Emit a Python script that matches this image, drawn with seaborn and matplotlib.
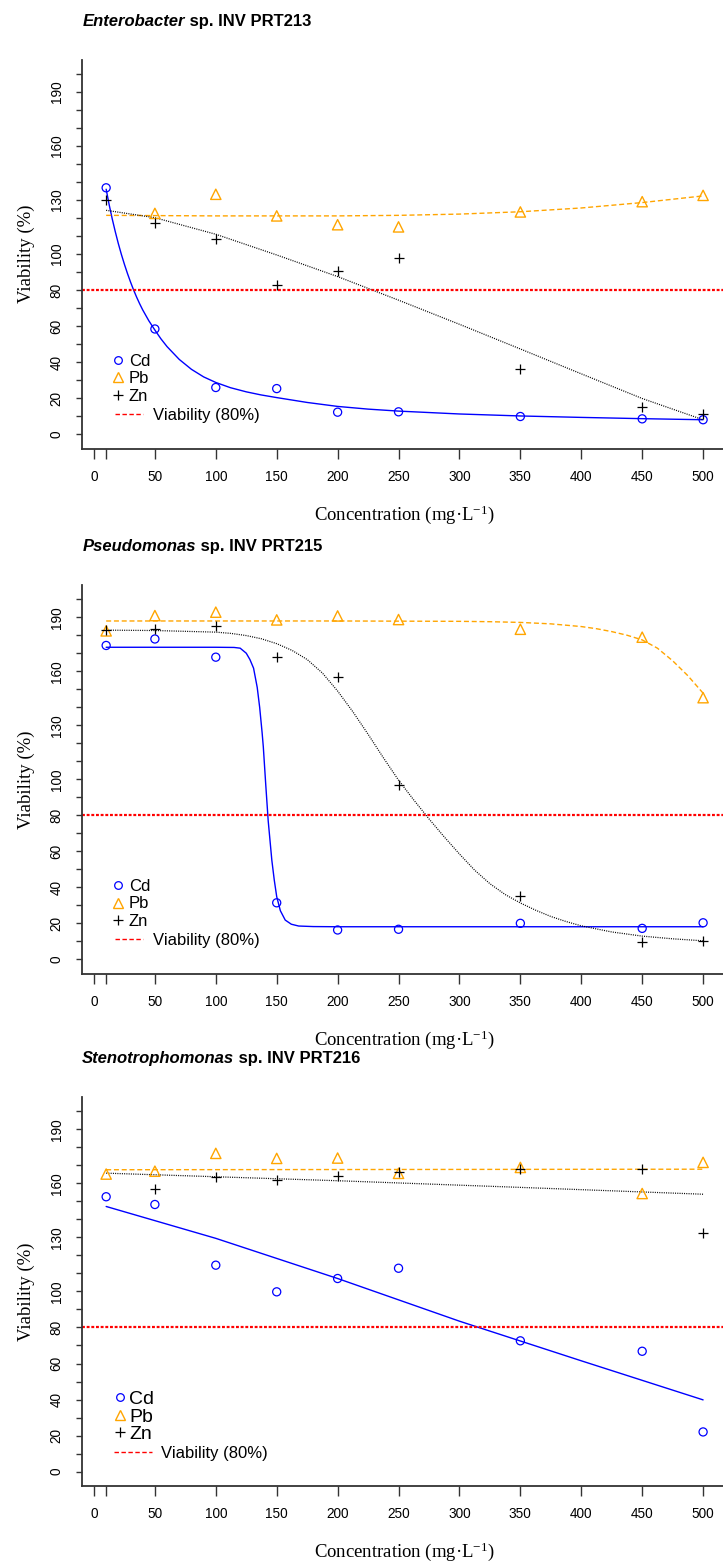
import numpy as np
import matplotlib
matplotlib.use('Agg')
import matplotlib.pyplot as plt
import seaborn as sns
from matplotlib.lines import Line2D

sns.set_style('ticks')
plt.rcParams['font.family'] = ['Liberation Sans', 'DejaVu Sans']
plt.rcParams['text.color'] = 'black'
plt.rcParams['axes.labelcolor'] = 'black'
plt.rcParams['xtick.color'] = 'black'
plt.rcParams['ytick.color'] = 'black'

# concentraciones ensayadas (mg/L)
conc = [10, 50, 100, 150, 200, 250, 350, 450, 500]
nan = np.nan

# --- Enterobacter sp. INV PRT213 ---
cd1 = [136.8, 58.4, 25.9, 25.3, 12.2, 12.4, 9.8, 8.5, 8.0]
pb1 = [nan, 122.6, 133.2, 121.2, 116.3, 115.1, 123.4, 129.1, 132.6]
zn1 = [129.9, 117.5, 108.2, 82.8, 90.7, 97.8, 36.2, 15.0, 11.3]
cd1_fx = [10, 12.5, 15, 17.5, 20, 22.5, 25, 27.5, 30, 32.5, 35, 37.5, 40, 45, 50, 55, 60,
          70, 80, 90, 100, 112, 125, 137, 150, 175, 200, 225, 250, 300, 350, 400, 450, 500]
cd1_fy = [136, 127.3, 119.5, 112.4, 105.8, 99.8, 94.3, 89.2, 84.5, 80.1, 76.1, 72.4, 69,
          63, 57.8, 52.9, 48.6, 41.5, 36, 31.8, 28.7, 25.8, 23.5, 21.8, 20.3, 17.6, 15.4,
          13.9, 12.8, 11.2, 10.1, 9.3, 8.6, 8.0]
pb1_fx = [10, 100, 200, 250, 300, 350, 400, 450, 500]
pb1_fy = [121.5, 121.2, 121.2, 121.5, 122.2, 123.5, 125.6, 128.6, 132.3]
zn1_fx = [10, 50, 100, 150, 200, 250, 300, 350, 400, 450, 500]
zn1_fy = [124.3, 120.2, 111, 99.5, 87.5, 74.4, 61, 47.3, 33.5, 19.8, 8.0]

# --- Pseudomonas sp. INV PRT215 ---
cd2 = [174.3, 177.9, 167.8, 31.4, 16.3, 16.7, 20.0, 17.2, 20.3]
pb2 = [182.4, 190.9, 192.8, 188.5, 190.7, 188.7, 183.3, 178.9, 145.3]
zn2 = [182.9, 183.5, 185.2, 167.8, 156.7, 96.7, 35.2, 9.8, 10.3]
cd2_fx = [10, 50, 100, 115, 120, 125, 128, 131, 134, 136, 138, 139, 141, 143, 146, 148,
          150, 153, 157, 162, 168, 180, 200, 300, 400, 500]
cd2_fy = [173.3, 173.3, 173.3, 173.2, 172.8, 170, 166.5, 161.7, 151, 140, 126, 118, 97,
          77, 55, 44, 34.8, 27, 21.8, 19.5, 18.5, 18.2, 18.1, 18.1, 18.1, 18.1]
pb2_fx = [10, 100, 200, 250, 300, 325, 350, 375, 400, 412.5, 425, 437.5, 450, 462.5, 475,
          487.5, 500]
pb2_fy = [187.9, 187.9, 187.9, 187.8, 187.7, 187.5, 187.1, 186.3, 184.8, 183.6, 182, 180,
          177.4, 172.8, 165.8, 157.5, 147.8]
zn2_fx = [10, 50, 100, 112.5, 125, 137.5, 150, 162.5, 175, 187.5, 200, 212.5, 225, 237.5,
          250, 262.5, 275, 287.5, 300, 312.5, 325, 337.5, 350, 362.5, 375, 387.5, 400, 425,
          450, 475, 500]
zn2_fy = [182.8, 182.6, 181.7, 181, 179.8, 178, 175.3, 171.6, 166.5, 159, 149, 137.5, 125,
          112, 99.5, 88.5, 78, 68, 58.5, 49.5, 42, 36, 31.3, 27.3, 23.8, 21, 18.6, 15.2,
          12.9, 11.4, 10.3]

# --- Stenotrophomonas sp. INV PRT216 ---
cd3 = [152.6, 148.3, 114.6, 99.8, 107.2, 112.9, 72.6, 66.8, 22.0]
pb3 = [165.2, 166.8, 176.7, 173.9, 174.1, 165.6, 168.9, 154.4, 171.7]
zn3 = [nan, 156.8, 163.3, 162.0, 163.9, 166.1, 167.9, 167.9, 132.4]
cd3_fx = [10, 100, 200, 300, 400, 500]
cd3_fy = [147.2, 129.5, 107.2, 83.5, 61.5, 39.8]
pb3_fx = [10, 500]
pb3_fy = [167.6, 167.9]
zn3_fx = [10, 200, 350, 500]
zn3_fy = [165.7, 161.5, 157.8, 154.0]

umbral = 80
xticks = [0, 10, 50, 100, 150, 200, 250, 300, 350, 400, 450, 500]
xtick_labels = ['0', '', '50', '100', '150', '200', '250', '300', '350', '400', '450', '500']
yticks = list(range(0, 201, 10))
ytick_labels = [str(v) if v in (0, 20, 40, 60, 80, 100, 130, 160, 190) else '' for v in yticks]

paneles = [
    ('Enterobacter', ' sp. INV PRT213', 0.7132, (cd1, pb1, zn1),
     ((cd1_fx, cd1_fy), (pb1_fx, pb1_fy), (zn1_fx, zn1_fy)), 12),
    ('Pseudomonas', ' sp. INV PRT215', 0.3774, (cd2, pb2, zn2),
     ((cd2_fx, cd2_fy), (pb2_fx, pb2_fy), (zn2_fx, zn2_fy)), 12),
    ('Stenotrophomonas', ' sp. INV PRT216', 0.0499, (cd3, pb3, zn3),
     ((cd3_fx, cd3_fy), (pb3_fx, pb3_fy), (zn3_fx, zn3_fy)), 14),
]

fig = plt.figure(figsize=(7.23, 15.64), dpi=100)
L, W, H = 0.1138, 0.8917, 0.2487
grey = '#333333'

for genero, resto, bottom, puntos, ajustes, fs_leg in paneles:
    ax = fig.add_axes([L, bottom, W, H])
    cd, pb, zn = puntos

    # curvas ajustadas
    sns.lineplot(x=ajustes[0][0], y=ajustes[0][1], ax=ax, color='blue', linewidth=1.0,
                 estimator=None, sort=False)
    sns.lineplot(x=ajustes[1][0], y=ajustes[1][1], ax=ax, color='orange', linewidth=1.0,
                 estimator=None, sort=False)
    ax.lines[-1].set_dashes((3.6, 2.0))
    sns.lineplot(x=ajustes[2][0], y=ajustes[2][1], ax=ax, color='black', linewidth=0.9,
                 estimator=None, sort=False)
    ax.lines[-1].set_dashes((0.8, 1.0))
    ax.axhline(umbral, color='red', lw=1.6, dashes=(1.3, 0.8), zorder=2)

    # puntos medidos
    sns.scatterplot(x=conc, y=cd, ax=ax, marker='o', s=34, color='blue', facecolor='none',
                    edgecolor='blue', linewidth=0.9, zorder=3)
    sns.scatterplot(x=conc, y=pb, ax=ax, marker='^', s=55, color='orange', facecolor='none',
                    edgecolor='orange', linewidth=1.0, zorder=3)
    sns.scatterplot(x=conc, y=zn, ax=ax, marker='+', s=60, color='black', linewidth=0.9,
                    zorder=3)

    ax.set_xlim(-9.6, 519.6)
    ax.set_ylim(-8, 208)
    ax.set_xticks(xticks)
    ax.set_xticklabels(xtick_labels)
    ax.set_yticks(yticks)
    ax.set_yticklabels(ytick_labels, rotation=90, va='center')
    ax.tick_params(axis='x', length=7.2, width=1, pad=8, labelsize=9.8, color=grey)
    ax.tick_params(axis='y', length=4.5, width=1, pad=9, labelsize=9.8, color=grey)
    sns.despine(ax=ax)
    for s in ('left', 'bottom'):
        ax.spines[s].set_linewidth(1.3)
        ax.spines[s].set_color(grey)

    ax.set_xlabel('Concentration (mg\u00b7L$\\mathregular{^{-1}}$)', family='Liberation Serif',
                  size=13.5)
    ax.xaxis.set_label_coords(0.5, -66 / 389)
    ax.xaxis.label.set_va('center')
    ax.set_ylabel('Viability (%)', family='Liberation Serif', size=13.5)
    ax.yaxis.set_label_coords(-0.0873, 0.5)
    ax.yaxis.label.set_va('center')

    t1 = ax.text(0, 1 + 38 / 389, genero, transform=ax.transAxes, fontsize=12,
                 fontweight='bold', fontstyle='italic', ha='left', va='center')
    ax.annotate(resto, xy=(1, 0.5), xycoords=t1, fontsize=12, fontweight='bold',
                ha='left', va='center')

    # leyendas
    h1 = [Line2D([], [], ls='none', marker='o', mfc='none', mec='blue', ms=5.5, mew=0.9),
          Line2D([], [], ls='none', marker='^', mfc='none', mec='orange', ms=6.5, mew=1.0),
          Line2D([], [], ls='none', marker='+', color='black', ms=7, mew=0.9)]
    if fs_leg == 12:
        leg1 = ax.legend(h1, ['Cd', 'Pb', 'Zn'], loc='upper left', bbox_to_anchor=(0.0476, 0.2436),
                         frameon=False, borderpad=0, borderaxespad=0, handlelength=0.6,
                         handletextpad=0.36, labelspacing=0.15, prop={'size': 12})
        anc2, hl2, hp2 = (0.0507, 0.1048), 1.68, 0.6
    else:
        leg1 = ax.legend(h1, ['Cd', 'Pb', 'Zn'], loc='upper left', bbox_to_anchor=(0.051, 0.2455),
                         frameon=False, borderpad=0, borderaxespad=0, handlelength=0.5,
                         handletextpad=0.21, labelspacing=0.0, prop={'size': 14})
        anc2, hl2, hp2 = (0.049, 0.103), 2.28, 0.54
    ax.add_artist(leg1)
    h2 = [Line2D([], [], color='red', lw=1.0, dashes=(3.2, 1.8))]
    ax.legend(h2, ['Viability (80%)'], loc='upper left', bbox_to_anchor=anc2, frameon=False,
              borderpad=0, borderaxespad=0, handlelength=hl2, handletextpad=hp2,
              prop={'size': 12})

fig.savefig('out.png', dpi=100)
